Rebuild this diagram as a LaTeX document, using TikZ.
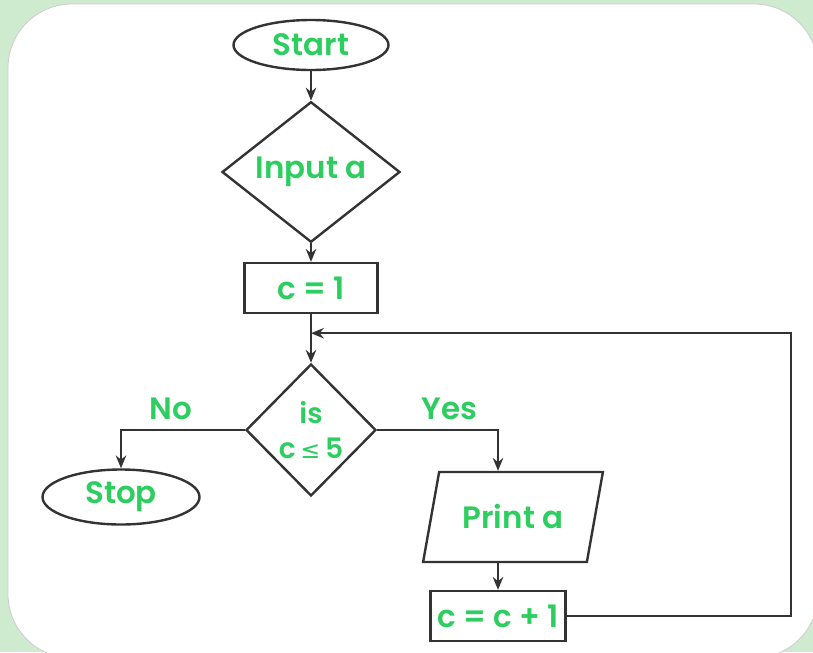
\documentclass[tikz,border=0pt]{standalone}
\usepackage{xcolor}
\usepackage{fontspec}
\setmainfont{Poppins}[UprightFont=* SemiBold]
\newfontfamily\symfont{DejaVu Sans}
\usepackage{tikz}
\usetikzlibrary{shapes.geometric, arrows.meta, positioning}
\definecolor{flowgreen}{RGB}{45,206,95}
\definecolor{bggreen}{RGB}{206,235,208}
\definecolor{linegray}{RGB}{51,51,51}

\begin{document}
\begin{tikzpicture}[node distance=2.9cm, auto,
                    >={Stealth[length=0.32cm, width=0.26cm]},
                    every node/.style={text=flowgreen, font=\fontsize{22}{27}\selectfont},
                    outline/.style={draw=linegray, line width=0.06cm},
                    term/.style={outline, ellipse, inner sep=0pt},
                    decide/.style={outline, diamond, inner sep=0pt, align=center},
                    proc/.style={outline, rectangle, inner sep=0pt, minimum height=1.25cm},
                    io/.style={outline, trapezium, trapezium left angle=66, trapezium right angle=114,
                               trapezium stretches=true, inner sep=0pt}]
                  % Background card
                  \begin{scope}
                    \clip (0,0) rectangle (20.325,-16.3);
                    \fill [bggreen] (0,0) rectangle (20.325,-16.3);
                    \fill [white, draw=gray!40, line width=0.02cm, rounded corners=1.6cm] (0.2,-0.1) rectangle (20.45,-16.45);
                  \end{scope}

                  % Main column
                  \node [term, minimum width=3.875cm, minimum height=1.25cm] (start) at (7.775,-1.125) {Start};
                  \node [decide, minimum width=4.45cm, minimum height=3.25cm, node distance=3.175cm, below of=start] (input) {Input a};
                  \node [proc, minimum width=3.325cm, node distance=2.9cm, below of=input] (c1) {c = 1};
                  \node [decide, inner sep=-0.3cm, minimum width=3.25cm, minimum height=3.3cm, font=\fontsize{20}{25}\selectfont,
                         node distance=3.55cm, below of=c1] (check) {is\\c\,{\symfont\fontsize{17}{25}\selectfont ≤}\,5};
                  \coordinate [below=0.475cm of c1] (join);

                  % Branches
                  \node [term, minimum width=3.925cm, minimum height=1.375cm, node distance=4.75cm, left of=check, yshift=-1.675cm] (stop) {Stop};
                  \node [io, minimum width=4.525cm, minimum height=2.25cm, node distance=5.05cm, right of=check, yshift=-2.175cm] (print) {Print a};
                  \node [proc, minimum width=3.375cm, node distance=2.475cm, below of=print, xshift=-0.375cm] (incr) {c = c + 1};

                  % Arrows for main column
                  \draw [outline, ->] (start) -- (input);
                  \draw [outline, ->] (input) -- (c1);
                  \draw [outline, ->] (c1) -- (check);

                  % Arrows for branches
                  \draw [outline, ->] (check.west) -| node [pos=0.3, above=0.22cm, inner sep=0pt] {No} (stop.north);
                  \draw [outline, ->] (check.east) -| node [pos=0.3, above=0.22cm, inner sep=0pt] {Yes} (incr |- print.north);
                  \draw [outline, ->] (incr |- print.south) -- (incr);

                  % Loop back
                  \draw [outline, ->] (incr.east) -- ++(5.6cm,0) |- (join);
              \end{tikzpicture}
\end{document}
